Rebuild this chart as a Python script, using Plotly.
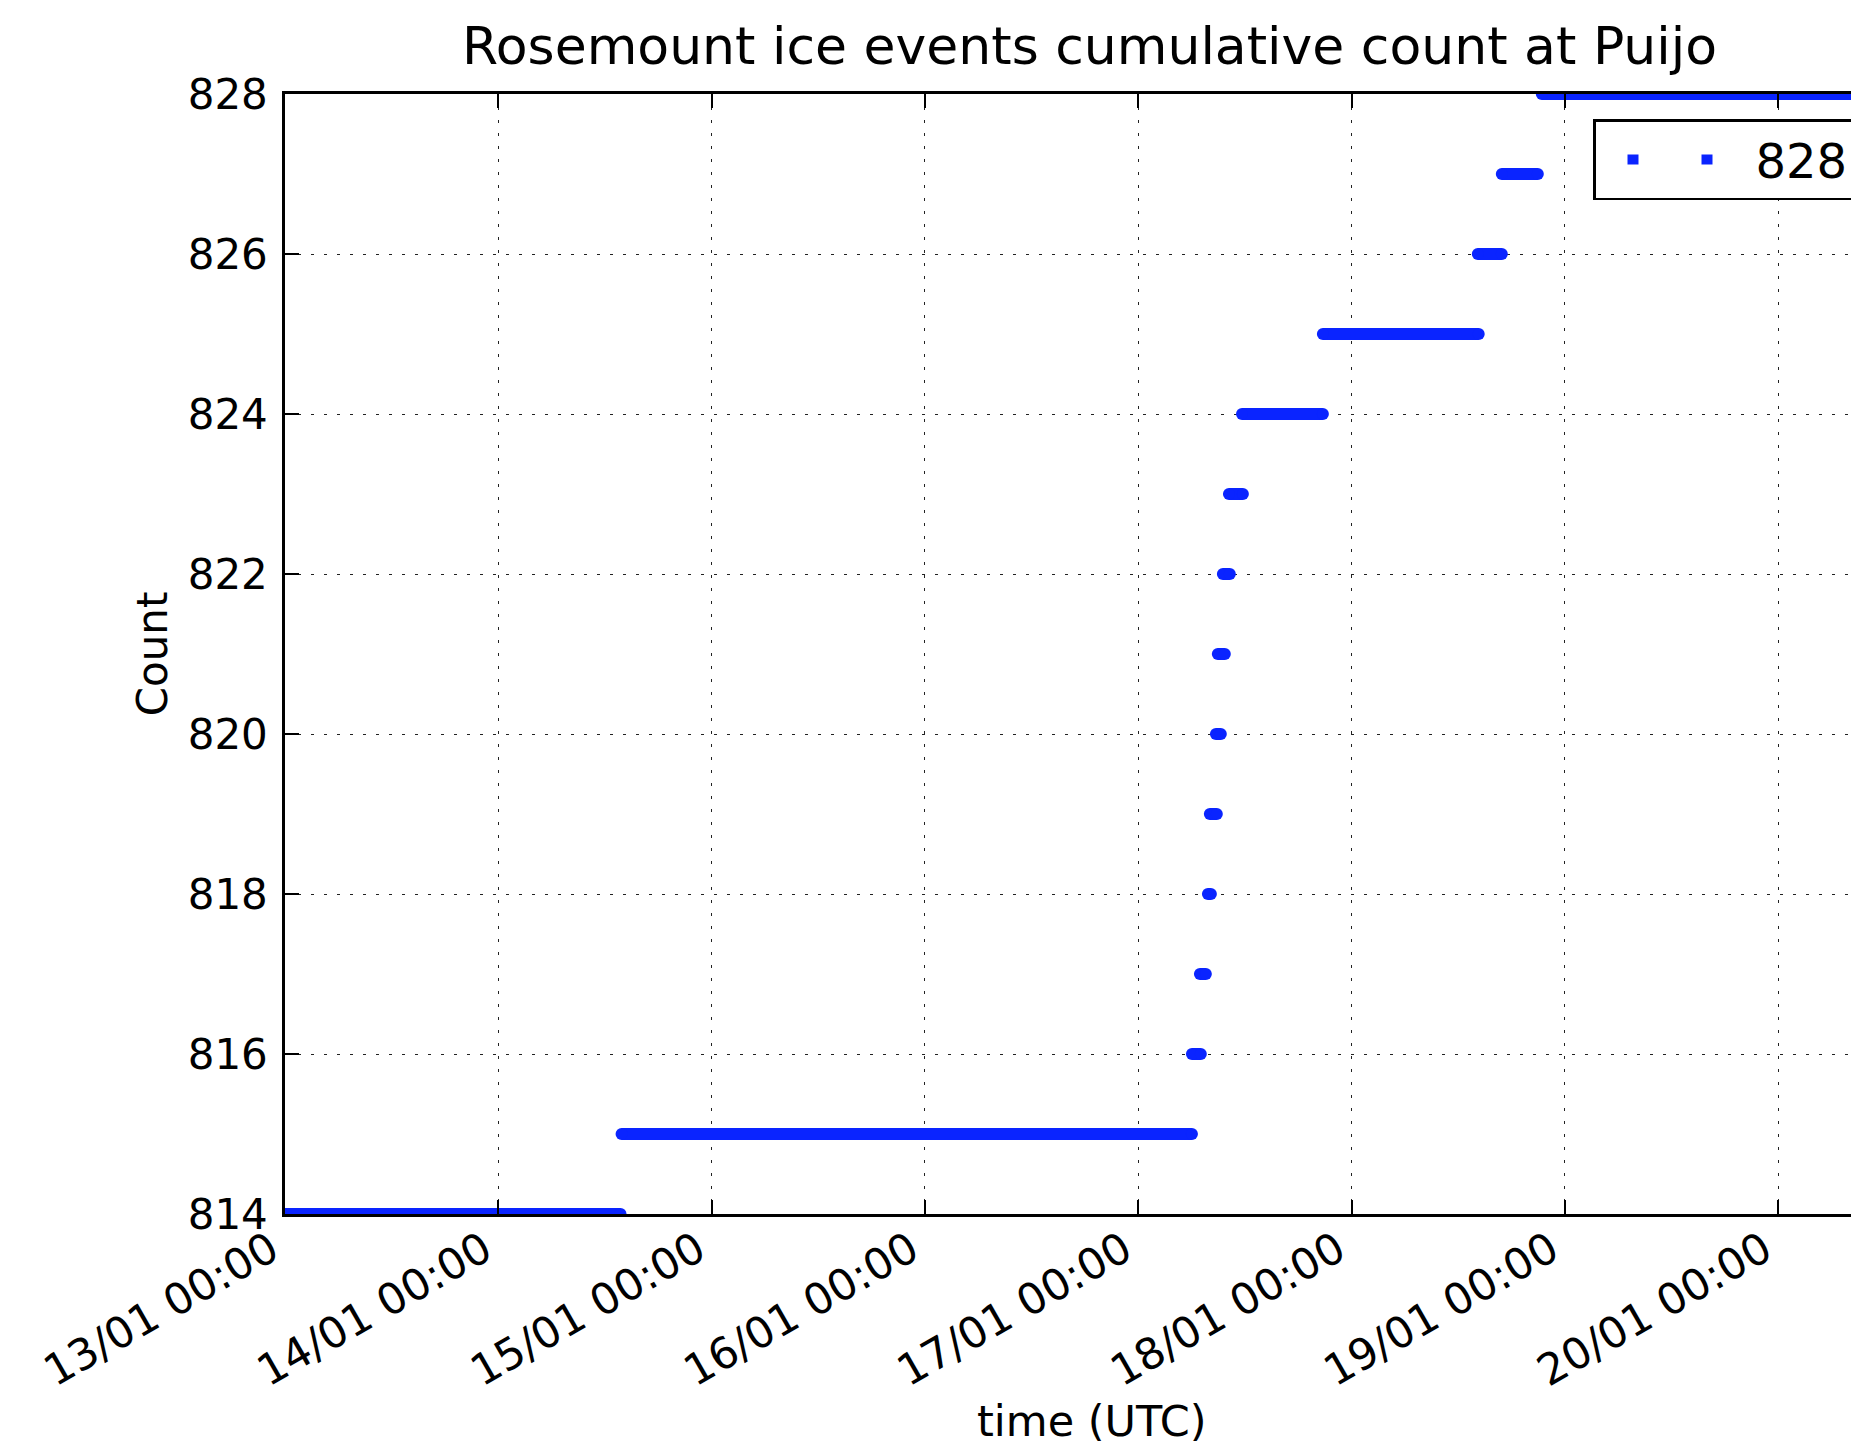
import plotly.graph_objects as go

# Cumulative count levels and the time span (first/last sample) at each level
levels = [814, 815, 816, 817, 818, 819, 820, 821, 822, 823, 824, 825, 826, 827, 828]
span_start = [
    "2015-01-12 12:00", "2015-01-14 13:52", "2015-01-17 06:02", "2015-01-17 06:56",
    "2015-01-17 07:50", "2015-01-17 08:03", "2015-01-17 08:44", "2015-01-17 08:57",
    "2015-01-17 09:31", "2015-01-17 10:12", "2015-01-17 11:40", "2015-01-17 20:46",
    "2015-01-18 14:12", "2015-01-18 16:54", "2015-01-18 21:24",
]
span_end = [
    "2015-01-14 13:45", "2015-01-17 06:02", "2015-01-17 07:02", "2015-01-17 07:36",
    "2015-01-17 08:10", "2015-01-17 08:50", "2015-01-17 09:17", "2015-01-17 09:44",
    "2015-01-17 10:18", "2015-01-17 11:46", "2015-01-17 20:46", "2015-01-18 14:18",
    "2015-01-18 16:54", "2015-01-18 20:57", "2015-01-21 00:00",
]
legend_label = "828"
x_range = ["2015-01-13 00:00", "2015-01-20 08:11"]
y_range = [814, 828]

BLUE = "#0a24ff"
FONT = "DejaVu Sans"

xs, ys = [], []
for lv, s, e in zip(levels, span_start, span_end):
    xs += [s, e, None]
    ys += [lv, lv, None]

fig = go.Figure()
fig.add_trace(go.Scatter(
    x=xs, y=ys, mode="lines+markers", connectgaps=False,
    line=dict(color=BLUE, width=12),
    marker=dict(color=BLUE, size=12, line=dict(width=0)),
    showlegend=False, hoverinfo="skip",
))
# legend entry (two dots like matplotlib numpoints=2)
fig.add_trace(go.Scatter(
    x=[None], y=[None], mode="lines", name=legend_label,
    line=dict(color=BLUE, width=11, dash="0px,27px,11px,63px,11px,400px"),
    showlegend=True,
))

grid = dict(showgrid=True, gridcolor="#222222", gridwidth=1.3, griddash="3px,10px")

fig.update_layout(
    width=1851, height=1448,
    margin=dict(l=285, r=0, t=94, b=234, pad=0, autoexpand=False),
    paper_bgcolor="white", plot_bgcolor="white",
    font=dict(family=FONT, size=42, color="black"),
    title=dict(
        text="Rosemount ice events cumulative count at Puijo",
        x=1089.5 / 1851, xref="container", xanchor="center",
        y=1 - 45.5 / 1448, yref="container", yanchor="middle",
        font=dict(family=FONT, size=52, color="black"),
    ),
    legend=dict(
        x=(1593 - 285) / 1566, y=(1214 - 119.3) / 1120,
        xanchor="left", yanchor="top",
        bgcolor="white", bordercolor="black", borderwidth=2.5,
        font=dict(family=FONT, size=48, color="black"),
        itemwidth=150,
    ),
    xaxis=dict(
        type="date", range=x_range,
        tick0="2015-01-13", dtick=86400000, tickformat="%d/%m %H:%M",
        tickangle=-30, tickfont=dict(family=FONT, size=43, color="black"),
        ticklabelshift=-14, ticklabelstandoff=-9,
        showline=True, linecolor="black", linewidth=2.5, mirror="ticks",
        ticks="inside", ticklen=14, tickwidth=1.5, tickcolor="black",
        zeroline=False, **grid,
    ),
    yaxis=dict(
        range=y_range, dtick=2, tick0=814,
        tickfont=dict(family=FONT, size=42, color="black"),
        showline=True, linecolor="black", linewidth=2.5, mirror=False,
        ticks="inside", ticklen=14, tickwidth=1.5, tickcolor="black",
        ticklabelstandoff=6,
        zeroline=False,
        title=dict(text="Count", font=dict(family=FONT, size=42, color="black"), standoff=7),
        **grid,
    ),
    annotations=[dict(
        text="time (UTC)", xref="paper", yref="paper",
        x=(1092 - 285) / 1566, y=(1214 - 1421) / 1120,
        xanchor="center", yanchor="middle", showarrow=False,
        font=dict(family=FONT, size=43, color="black"),
    )],
)

fig.write_html("out.html")
